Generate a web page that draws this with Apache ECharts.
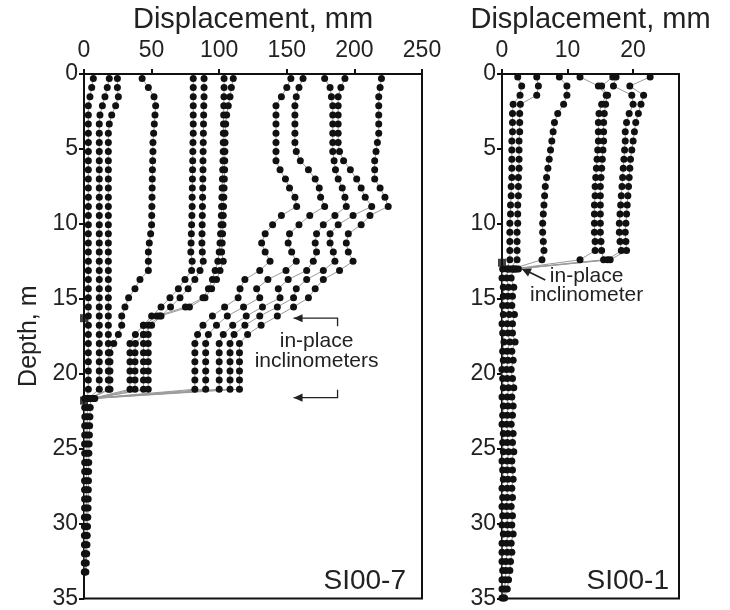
<!DOCTYPE html>
<html>
<head>
<meta charset="utf-8">
<script src="https://cdn.jsdelivr.net/npm/echarts@6/dist/echarts.min.js"></script>
<style>
html,body{margin:0;padding:0;background:#fff;}
#chart{width:730px;height:610px;}
</style>
</head>
<body>
<div id="chart"></div>
<script>
// Reading depths (m), 2-ft spacing
const depthSI7 = [0.3,0.91,1.52,2.13,2.74,3.35,3.96,4.57,5.18,5.79,6.4,7.01,7.62,8.23,8.84,9.45,10.06,10.67,11.28,11.89,12.5,13.11,13.72,14.33,14.94,15.55,16.16,16.77,17.38,17.99,18.6,19.21,19.82,20.43,21.04,21.65];
const depthSI7deep = [21.65,22.26,22.87,23.48,24.09,24.7,25.31,25.92,26.53,27.14,27.75,28.36,28.97,29.58,30.19,30.8,31.41,32.02,32.63,33.24];

// SI00-7 displacement profiles (mm)
const si7A = [6.9,5.7,4.4,3.2,3.2,3.2,3.2,3.2,3.2,3.2,3.2,3.2,3.2,3.2,3.2,3.2,3.2,3.2,3.2,3.2,3.2,3.2,3.2,3.2,3.2,3.2,3.2,3.2,3.2,3.2,3.2,3.2,3.2,3.2,3.2,2.5];
const si7B = [18.7,17.2,15.5,13.6,11.8,11.3,11.3,11.3,11.3,11.3,11.3,11.3,11.3,11.3,11.3,11.3,11.3,11.3,11.3,11.3,11.3,11.3,11.3,11.3,11.3,11.3,11.3,11.3,11.3,11.3,11.3,11.3,11.3,11.3,11.3,3];
const si7C = [24.7,24.7,25.4,23.4,20.5,18.7,18,18,18,18,18,18,18,18,18,18,18,18,18,18,18,18,18,18,18,18,18,18,18,18,18,18,18,18,18,4];
const si7D = [43,47.6,51.8,53,52.5,52,51.5,51,51,50.8,50.6,50.5,50.4,50.3,50.2,50.1,50,49.3,48.3,47.6,47.6,47.6,41.4,37.7,33,30.3,27.9,27.9,25.4,22,19.2,19.2,19.2,19.2,19.2,5];
const si7E = [80.8,80.8,80.8,80.8,80.8,80.8,80.8,80.6,80.5,80.4,80.3,80.2,80.1,80,80,79.8,79.6,79.4,79.2,79,80,79.6,74.7,69.8,63.6,57,50,44,38,34,34,34,34,34,34,6];
const si7F = [88.8,88.8,88.8,88.6,88.5,88.4,88.3,88.2,88.1,88,88,87.9,87.8,87.7,87.6,87.5,87.4,87.3,87.2,87.5,88.2,85.8,82,77,71,64,57,50,44,38,37.7,37.7,37.7,37.7,37.7,7];
const si7G = [103.6,103.6,103.5,103.4,103.3,103.2,103.1,103,103,102.8,102.6,102.4,102.2,102,101.8,101.6,101.4,101,100.6,100,99,97,95,92,88,75,54,44,44,44,44,44,44,44,44,7];
const si7H = [110.4,109,108,106.7,105.5,104.8,104.3,104.3,104.2,104.1,104,103.8,103.6,103.4,103.2,103,102.8,102.5,102.2,101.8,103,100.6,98,94.4,89.5,78,56,47.5,47.5,47.5,47.5,47.5,47.5,47.5,47.5,6];
const si7I = [153,150,146,142,142,142,142,142,142,142,145,149,152,156,157.3,146,139.5,134,131.4,134,137.6,130,119,115.4,114,104,95,88,84,82,82,82,82,82,82,5];
const si7J = [162,159,157,156,156,156,156,156,157,160,166,171,174,175,178,167,159,152,151,153.6,157,149.4,136,127.7,130,118,106,98,92,90,90,90,90,90,90,6];
const si7K = [178,182,183,184,184,184,184,184,184,185,186,188,191,193,194,185.6,177,172,171,172,169.6,164.7,151,143.7,145,132,120,110,103,100,100,100,100,100,100,7];
const si7L = [193,190,188,188,188,188,188,188,189,192,197,201.7,205,208,212.8,199,188,182,182,184.4,185.6,177,164.7,157,155,143,130,119,111,108,108,108,108,108,108,7];
const si7M = [220,219,218,218,218,218,218,217,216,215,215,215,219,222.6,225,211.5,205,195.5,194,195.5,199,189,177,171,166,155,143,131,121,115,115,115,115,115,115,8];
const si7Deep1 = [0.5,0.5,0.6,0.5,0.5,0.4,0.5,0.5,0.5,0.4,0.4,0.4,0.4,0.3,0.3,0.3,0.3,0.3,0.2,0.2];
const si7Deep2 = [2.5,2.4,2.5,2.3,2.2,2.2,2.1,2.0,2.0,1.9,1.8,1.8,1.7,1.6,1.5,1.4,1.3,1.1,0.9,0.8];
const si7Deep3 = [5.0,4.6,4.4,4.2,4.0,3.8,3.6,3.5,3.4,3.3,3.2,3.1,3.0,2.8,2.6,2.4,2.2,2.0,1.7,1.4];

// SI00-1 depths and profiles
const depthSI1 = [0.2,0.81,1.42,2.03,2.64,3.25,3.86,4.47,5.08,5.69,6.3,6.91,7.52,8.13,8.74,9.35,9.96,10.57,11.18,11.79,12.4,13.01];
const depthSI1deep = [13.01,13.62,14.23,14.84,15.45,16.06,16.67,17.28,17.89,18.5,19.11,19.72,20.33,20.94,21.55,22.16,22.77,23.38,23.99,24.6,25.21,25.82,26.43,27.04,27.65,28.26,28.87,29.48,30.09,30.7,31.31,31.92,32.53,33.14,33.75,34.36,34.97];
const si1A = [2.4,3.0,2.75,1.7,1.6,1.6,1.6,1.5,1.5,1.5,1.5,1.5,1.4,1.4,1.3,1.3,1.2,1.2,1.2,1.2,1.2,0.8];
const si1B = [5.3,5.55,5.3,2.8,2.7,2.7,2.7,2.6,2.6,2.6,2.6,2.5,2.5,2.5,2.4,2.4,2.4,2.3,2.3,2.3,2.3,1.2];
const si1C = [8.75,9.9,9.9,9.4,8.5,8.0,7.8,7.6,7.4,7.2,7.0,6.8,6.6,6.5,6.4,6.3,6.2,6.2,6.3,6.4,6.1,1.5];
const si1D = [11.9,14.7,15.9,15.2,14.8,14.7,14.7,14.7,14.6,14.5,14.4,14.3,14.2,14.2,14.1,14.1,14.1,14.1,14.2,14.2,11.9,1.8];
const si1E = [16.9,15.2,16.1,15.8,15.6,15.5,15.5,15.5,15.4,15.3,15.2,15.1,15,15,15,15,15,15,15.1,15.2,15.5,2];
const si1F = [17.4,17.0,19.8,20.0,19.4,19.0,18.8,18.8,18.7,18.6,18.5,18.4,18.3,18.2,18.1,18,17.9,17.9,18,18.2,16.1,2.2];
const si1G = [22.6,19.5,21.6,21.2,20.8,20.4,20.2,20,19.8,19.6,19.5,19.4,19.3,19.2,19.1,19,18.9,18.8,18.9,19,16.5,2.5];
const si1Deep1 = [0.1,0.0,0.2,0.2,0.1,0.2,0.0,0.1,0.3,0.1,0.2,0.0,0.1,0.2,0.0,0.2,0.1,0.0,0.2,0.1,0.2,0.0,0.1,0.2,0.0,0.1,0.0,0.1,0.0,0.2,0.0,0.0,0.0,0.1,0.0,0.0,0.0];
const si1Deep2 = [0.9,0.7,1.0,0.9,0.8,1.1,0.8,0.9,1.2,0.8,0.9,0.7,0.8,1.0,0.8,0.9,0.8,0.7,0.9,0.8,1.0,0.8,0.8,0.9,0.8,0.8,0.7,0.8,0.8,0.9,0.7,0.8,0.6,0.6,0.5,0.4,0.2];
const si1Deep3 = [1.7,1.4,1.8,1.6,1.5,1.9,1.6,1.6,2.0,1.5,1.7,1.4,1.6,1.8,1.5,1.7,1.6,1.4,1.7,1.6,1.8,1.5,1.6,1.7,1.5,1.6,1.4,1.6,1.5,1.7,1.4,1.5,1.3,1.2,1.0,0.8,0.4];

// In-place inclinometer depths (m)
const inplaceSI7 = [16.3, 21.8];
const inplaceSI1 = [12.6];

// Axis ticks
const dispTicksSI7 = [0,50,100,150,200,250];
const dispTicksSI1 = [0,10,20];

const FONT = '"Liberation Sans", Arial, sans-serif';
const SZ = { title: 29, tick: 23, yname: 25, well: 28, note: 21 };
const TXT = '#222';

function profile(vals, depths, gridIdx) {
  return {
    type: 'line',
    xAxisIndex: gridIdx, yAxisIndex: gridIdx,
    data: vals.map((v, i) => [v, depths[i]]),
    symbol: 'circle', symbolSize: 7,
    itemStyle: { color: '#111' },
    lineStyle: { color: '#9a9a9a', width: 1 },
    silent: true, animation: false, z: 3
  };
}
function markers(depths, gridIdx) {
  return {
    type: 'scatter',
    xAxisIndex: gridIdx, yAxisIndex: gridIdx,
    data: depths.map(d => [0, d]),
    symbol: 'rect', symbolSize: 8,
    itemStyle: { color: '#111' }, z: 5, silent: true, animation: false
  };
}

const series = [];
[si7A,si7B,si7C,si7D,si7E,si7F,si7G,si7H,si7I,si7J,si7K,si7L,si7M].forEach(s => series.push(profile(s, depthSI7, 0)));
[si7Deep1, si7Deep2, si7Deep3].forEach(s => series.push(profile(s, depthSI7deep, 0)));
series.push(markers(inplaceSI7, 0));
[si1A,si1B,si1C,si1D,si1E,si1F,si1G].forEach(s => series.push(profile(s, depthSI1, 1)));
[si1Deep1, si1Deep2, si1Deep3].forEach(s => series.push(profile(s, depthSI1deep, 1)));
series.push(markers(inplaceSI1, 1));

function xAx(gridIndex, max, ticks) {
  return {
    gridIndex, type: 'value', position: 'top', min: 0, max,
    name: 'Displacement, mm', nameLocation: 'middle', nameGap: 36,
    nameTextStyle: { fontFamily: FONT, fontSize: SZ.title, color: TXT },
    axisLine: { show: true, lineStyle: { color: '#111', width: 2 } },
    axisTick: { show: true, inside: false, length: 5, customValues: ticks, lineStyle: { color: '#111', width: 2 } },
    axisLabel: { customValues: ticks, fontFamily: FONT, fontSize: SZ.tick, color: TXT, margin: 12 },
    splitLine: { show: false }
  };
}
function yAx(gridIndex, name) {
  return {
    gridIndex, type: 'value', inverse: true, min: 0, max: 35, interval: 5,
    name, nameLocation: 'middle', nameGap: 42, nameRotate: 90,
    nameTextStyle: { fontFamily: FONT, fontSize: SZ.yname, color: TXT },
    axisLine: { show: true, lineStyle: { color: '#111', width: 2 } },
    axisTick: { show: true, length: 5, lineStyle: { color: '#111', width: 2 } },
    axisLabel: { fontFamily: FONT, fontSize: SZ.tick, color: TXT, margin: 6 },
    splitLine: { show: false }
  };
}

const chart = echarts.init(document.getElementById('chart'), null, { renderer: 'canvas' });
chart.setOption({
  backgroundColor: '#fff',
  animation: false,
  grid: [
    { left: 84, right: 308, top: 72, bottom: 8, show: true, borderColor: '#111', borderWidth: 2, backgroundColor: 'transparent' },
    { left: 502, right: 51, top: 72, bottom: 8, show: true, borderColor: '#111', borderWidth: 2, backgroundColor: 'transparent' }
  ],
  xAxis: [xAx(0, 250, dispTicksSI7), xAx(1, 27, dispTicksSI1)],
  yAxis: [yAx(0, 'Depth, m'), yAx(1, '')],
  series
});

// Well labels and in-place inclinometer annotations
function px(gridIdx, x, y) { return chart.convertToPixel({ xAxisIndex: gridIdx, yAxisIndex: gridIdx }, [x, y]); }
const lab7 = px(0, 250, 35), lab1 = px(1, 27, 35);
const a1 = px(0, 155, inplaceSI7[0]), a2 = px(0, 155, inplaceSI7[1] - 0.2);
const t7a = px(0, 172, 18.55), t7b = px(0, 172, 19.85);
const r1 = px(1, 2.9, 12.95), r2 = px(1, 6.6, 13.75);
const t1a = px(1, 12.9, 14.2), t1b = px(1, 12.9, 15.45);
const arrowHead = (tip, from, size) => {
  const dx = from[0] - tip[0], dy = from[1] - tip[1], len = Math.hypot(dx, dy);
  const ux = dx / len, uy = dy / len;
  const bx = tip[0] + ux * size, by = tip[1] + uy * size;
  return { type: 'polygon', shape: { points: [tip, [bx - uy * size * 0.45, by + ux * size * 0.45], [bx + uy * size * 0.45, by - ux * size * 0.45]] }, style: { fill: '#222' } };
};
const noteText = (p, text) => ({ type: 'text', x: p[0], y: p[1], style: { text, font: SZ.note + 'px ' + FONT, fill: TXT, align: 'center', verticalAlign: 'bottom' } });
chart.setOption({
  graphic: [
    { type: 'text', x: lab7[0] - 16, y: lab7[1] - 3, style: { text: 'SI00-7', font: SZ.well + 'px ' + FONT, fill: TXT, align: 'right', verticalAlign: 'bottom' } },
    { type: 'text', x: lab1[0] - 10, y: lab1[1] - 3, style: { text: 'SI00-1', font: SZ.well + 'px ' + FONT, fill: TXT, align: 'right', verticalAlign: 'bottom' } },
    noteText(t7a, 'in-place'),
    noteText(t7b, 'inclinometers'),
    { type: 'polyline', shape: { points: [[a1[0], a1[1]], [a1[0] + 44, a1[1]], [a1[0] + 44, a1[1] + 8]] }, style: { stroke: '#222', lineWidth: 1.3, fill: null } },
    arrowHead([a1[0], a1[1]], [a1[0] + 44, a1[1]], 9),
    { type: 'polyline', shape: { points: [[a2[0], a2[1]], [a2[0] + 44, a2[1]], [a2[0] + 44, a2[1] - 8]] }, style: { stroke: '#222', lineWidth: 1.3, fill: null } },
    arrowHead([a2[0], a2[1]], [a2[0] + 44, a2[1]], 9),
    noteText(t1a, 'in-place'),
    noteText(t1b, 'inclinometer'),
    { type: 'line', shape: { x1: r1[0], y1: r1[1], x2: r2[0], y2: r2[1] }, style: { stroke: '#222', lineWidth: 1.8 } },
    arrowHead(r1, r2, 10)
  ]
});
</script>
</body>
</html>
